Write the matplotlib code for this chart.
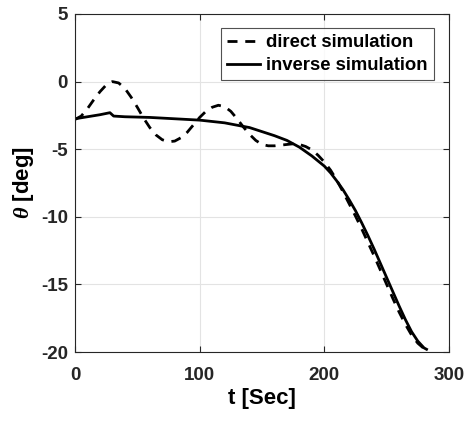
import matplotlib
matplotlib.use("Agg")
import matplotlib.pyplot as plt

plt.rcParams['font.family'] = ['Liberation Sans', 'DejaVu Sans']
plt.rcParams['font.weight'] = 'bold'
plt.rcParams['axes.unicode_minus'] = False
plt.rcParams['mathtext.fontset'] = 'custom'
plt.rcParams['mathtext.it'] = 'Liberation Serif:italic:bold'
plt.rcParams['mathtext.rm'] = 'Liberation Sans:bold'

t_direct = [0, 5, 10, 15, 20, 25, 30, 35, 40, 45, 50, 55, 60, 65, 70, 75, 80, 85, 90, 95,
            100, 105, 110, 115, 120, 125, 130, 135, 140, 145, 150, 155, 160, 165, 170, 175,
            180, 185, 190, 195, 200, 205, 210, 215, 220, 225, 230, 235, 240, 245, 250, 255,
            260, 265, 270, 275, 280, 282]
theta_direct = [-2.8, -2.55, -2.0, -1.35, -0.75, -0.25, 0.0, -0.1, -0.5, -1.15, -1.9, -2.7,
                -3.4, -3.95, -4.3, -4.45, -4.4, -4.15, -3.75, -3.2, -2.65, -2.2, -1.9, -1.75,
                -1.85, -2.2, -2.75, -3.35, -3.9, -4.35, -4.65, -4.75, -4.75, -4.7, -4.65, -4.6,
                -4.65, -4.8, -5.05, -5.45, -5.95, -6.55, -7.3, -8.15, -9.05, -9.95, -10.9,
                -11.9, -12.9, -13.95, -15.0, -16.05, -17.05, -17.95, -18.75, -19.35, -19.75, -19.85]

t_inverse = [0, 10, 20, 28, 31, 40, 60, 80, 100, 120, 140, 150, 160, 170, 180, 190, 200,
             205, 210, 215, 220, 225, 230, 235, 240, 245, 250, 255, 260, 265, 270, 275, 280, 282]
theta_inverse = [-2.75, -2.6, -2.45, -2.3, -2.55, -2.6, -2.65, -2.75, -2.85, -3.05, -3.4,
                 -3.7, -4.0, -4.35, -4.85, -5.5, -6.25, -6.75, -7.35, -8.0, -8.75, -9.55, -10.45,
                 -11.4, -12.4, -13.45, -14.5, -15.55, -16.6, -17.6, -18.5, -19.2, -19.7, -19.8]

x_ticks = [0, 100, 200, 300]
y_ticks = [-20, -15, -10, -5, 0, 5]

fig = plt.figure(figsize=(4.67, 4.22), dpi=100)
ax = fig.add_axes([75/467, 1 - 352/422, (449-75)/467, (352-14)/422])

ax.plot(t_direct, theta_direct, 'k--', lw=2.0, dashes=(3.6, 2.8), label='direct simulation')
ax.plot(t_inverse, theta_inverse, 'k-', lw=2.0, label='inverse simulation')

ax.set_xlim(0, 300)
ax.set_ylim(-20, 5)
ax.set_xticks(x_ticks)
ax.set_yticks(y_ticks)
ax.grid(True, color='#e3e3e3', lw=0.8)
ax.tick_params(direction='in', top=True, right=True, labelsize=13.5, colors='#262626',
               length=4, width=0.8)
ax.tick_params(axis='x', pad=11)
ax.tick_params(axis='y', pad=5)
for lab in ax.get_xticklabels() + ax.get_yticklabels():
    lab.set_fontweight('bold')
for s in ax.spines.values():
    s.set_color('#262626')
    s.set_linewidth(0.8)

ax.set_xlabel('t [Sec]', fontsize=16, fontweight='bold', labelpad=3)
ax.set_ylabel(r'$\theta$ [deg]', fontsize=16, fontweight='bold', labelpad=4)

leg = ax.legend(loc='upper right', bbox_to_anchor=(434/467, 1 - 28/422),
                bbox_transform=fig.transFigure, fontsize=13.3, frameon=True, fancybox=False,
                edgecolor='#262626', handlelength=1.8, handletextpad=0.3,
                borderpad=0.35, labelspacing=0.3, borderaxespad=0)
leg.get_frame().set_linewidth(0.8)
for txt in leg.get_texts():
    txt.set_fontweight('bold')

fig.savefig('out.png', dpi=100)
